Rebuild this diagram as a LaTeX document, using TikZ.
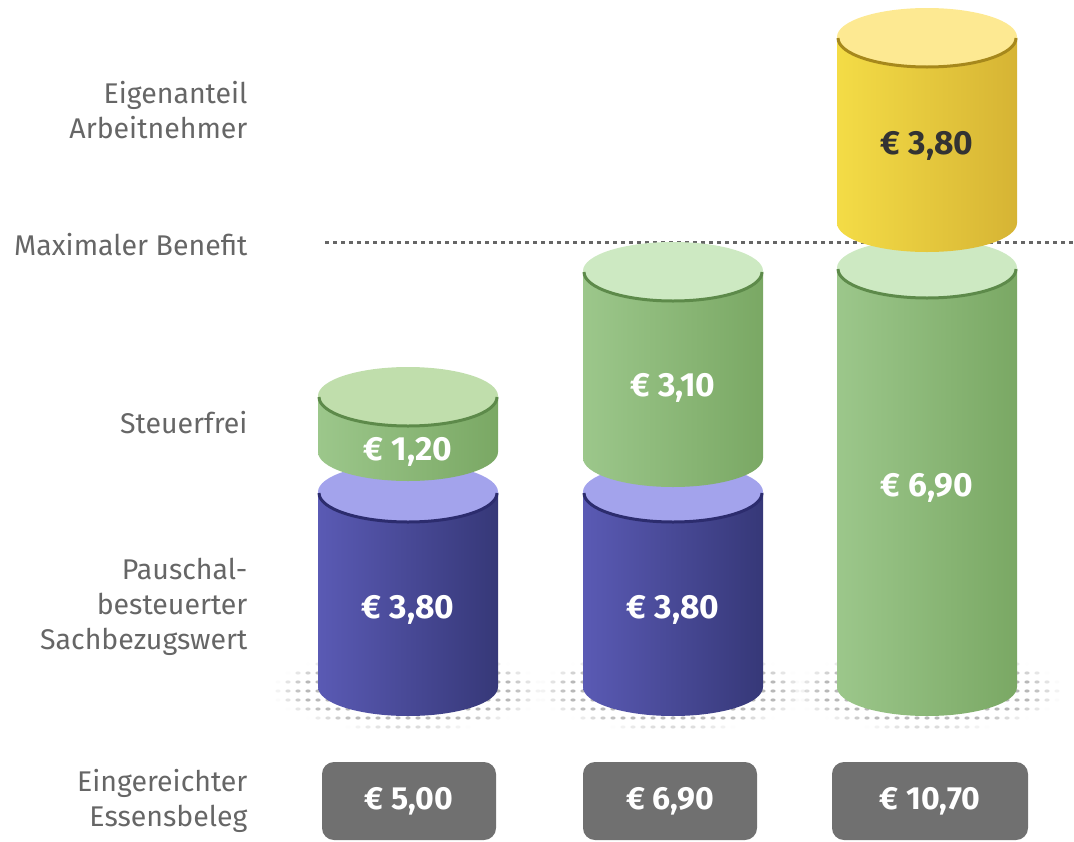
\documentclass[tikz,border=0pt]{standalone}
\usepackage{fontspec}
\setmainfont{Fira Sans}
\definecolor{labelgray}{HTML}{666666}
\definecolor{boxgray}{HTML}{707070}
\definecolor{dotgray}{HTML}{B8B8B8}
\definecolor{blueL}{HTML}{5A5AB4}
\definecolor{blueM}{HTML}{6E6CA4}
\definecolor{blueR}{HTML}{363878}
\definecolor{blueTop}{HTML}{A3A3EC}
\definecolor{blueRim}{HTML}{2C2C6E}
\definecolor{greenL}{HTML}{9CC78B}
\definecolor{greenM}{HTML}{A6C996}
\definecolor{greenR}{HTML}{7AA864}
\definecolor{greenTop}{HTML}{C0DEAC}
\definecolor{greenTopB}{HTML}{CDE9C2}
\definecolor{greenRim}{HTML}{5D8A4A}
\definecolor{yellowL}{HTML}{F4DC46}
\definecolor{yellowM}{HTML}{E6CC66}
\definecolor{yellowR}{HTML}{D6B434}
\definecolor{yellowTop}{HTML}{FDE992}
\definecolor{yellowRim}{HTML}{A6881C}
\tikzset{
  rowlabel/.style={anchor=east, align=right, text=labelgray, font=\fontsize{28.5}{35}\selectfont},
  value/.style={text=white, font=\fontsize{33.5}{38}\selectfont\bfseries},
  darkvalue/.style={value, text=black!80},
  sumbox/.style={fill=boxgray, rounded corners=12pt, text=white, font=\fontsize{32}{36}\selectfont\bfseries}
}
% cylinder: center x, top y, bottom y, left, middle, right, top colour, rim colour
\newcommand{\cylinder}[8]{%
  \shade[left color=#4, middle color=#5, right color=#6] (#1-90,#2) -- (#1-90,#3)
    arc[start angle=180, end angle=0, x radius=90, y radius=29] -- (#1+90,#2) -- cycle;
  \fill[#7] (#1,#2) ellipse[x radius=90, y radius=29];
  \draw[#8, line width=3] (#1-89,#2+1) arc[start angle=180, end angle=0, x radius=89, y radius=29];
}
% dotted shadow under a column
\newcommand{\dotshadow}[1]{%
  \foreach \i in {-13,...,13} {
    \foreach \j in {-4,...,4} {
      \pgfmathsetmacro\dd{(\i/13.5)^2+(\j/4.5)^2}
      \ifdim\dd pt<1pt
        \pgfmathsetmacro\op{min(1,2.5*(1-\dd))}
        \fill[dotgray, opacity=\op] (#1+\i*10,691+\j*9) ellipse[x radius=2.6, y radius=1.6];
      \fi
    }
  }
}
\begin{document}
\begin{tikzpicture}[x=1pt, y=-1pt]
  \useasboundingbox (0,0) rectangle (1074,841);
  % Row labels
  \node[rowlabel] (lEigen) at (251,110) {Eigenanteil\\Arbeitnehmer};
  \node[rowlabel] (lMax) at (251,245) {Maximaler Benefit};
  \node[rowlabel] (lSteuer) at (251,423) {Steuerfrei};
  \node[rowlabel] (lPausch) at (251,607) {Pauschal-\\besteuerter\\Sachbezugswert};
  \node[rowlabel] (lBeleg) at (251,801) {Eingereichter\\Essensbeleg};
  % Maximum line
  \coordinate (maxA) at (325,242);
  \coordinate (maxB) at (1074,242);
  \draw[labelgray, line width=3, dash pattern=on 4 off 4] (maxA) -- (maxB);
  % Shadows
  \dotshadow{408}
  \dotshadow{673}
  \dotshadow{927}
  % Column 1
  \cylinder{408}{492}{687}{blueL}{blueM}{blueR}{blueTop}{blueRim}
  \cylinder{408}{396}{452}{greenL}{greenM}{greenR}{greenTop}{greenRim}
  \node[value] (c1blue) at (408,610) {€ 3,80};
  \node[value] (c1green) at (408,452) {€ 1,20};
  % Column 2
  \cylinder{673}{492}{687}{blueL}{blueM}{blueR}{blueTop}{blueRim}
  \cylinder{673}{271}{458}{greenL}{greenM}{greenR}{greenTopB}{greenRim}
  \node[value] (c2blue) at (673,610) {€ 3,80};
  \node[value] (c2green) at (673,388) {€ 3,10};
  % Column 3
  \cylinder{927}{268}{687}{greenL}{greenM}{greenR}{greenTopB}{greenRim}
  \cylinder{927}{37}{223}{yellowL}{yellowM}{yellowR}{yellowTop}{yellowRim}
  \node[value] (c3green) at (927,488) {€ 6,90};
  \node[darkvalue] (c3yellow) at (927,146) {€ 3,80};
  % Receipts
  \node[sumbox, minimum width=174, minimum height=78] (b1) at (409,801) {€ 5,00};
  \node[sumbox, minimum width=174, minimum height=78] (b2) at (670,801) {€ 6,90};
  \node[sumbox, minimum width=196, minimum height=78] (b3) at (930,801) {€ 10,70};
\end{tikzpicture}
\end{document}
